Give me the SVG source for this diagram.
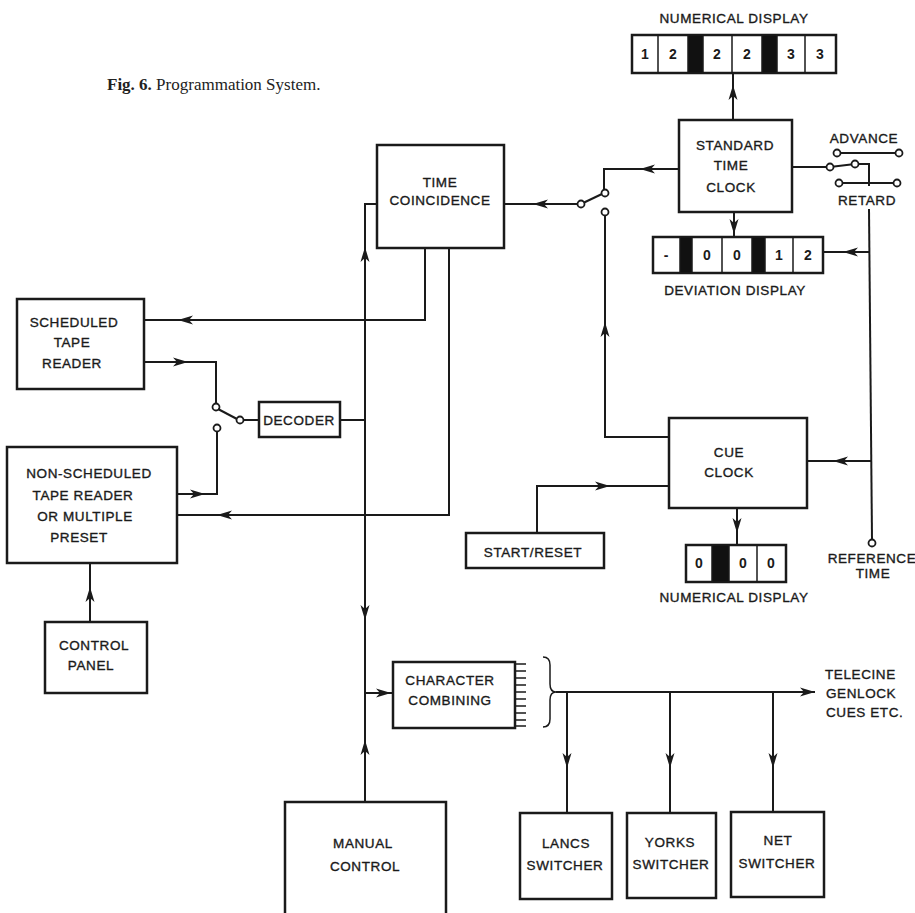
<svg xmlns="http://www.w3.org/2000/svg" width="915" height="913" viewBox="0 0 915 913">
<defs>
<style>
.box{fill:#fff;stroke:#1a1a1a;stroke-width:2.5}
.ln{fill:none;stroke:#1a1a1a;stroke-width:2}
.thin{fill:none;stroke:#1a1a1a;stroke-width:1.5}
.blk{fill:#111;stroke:#1a1a1a;stroke-width:1.5}
.c{fill:#fff;stroke:#1a1a1a;stroke-width:1.8}
.t{font-family:"Liberation Sans",Arial,sans-serif;font-size:13.5px;fill:#1a1a1a;stroke:#1a1a1a;stroke-width:0.35;text-anchor:middle;letter-spacing:0.6px}
.l{text-anchor:start}
.d{font-family:"Liberation Sans",Arial,sans-serif;font-size:14px;font-weight:bold;fill:#1a1a1a;text-anchor:middle}
.cap{font-family:"Liberation Serif","Times New Roman",serif;font-size:17px;fill:#222}
</style>
<path id="ah" d="M0,0 L-15,-4.5 L-11,0 L-15,4.5 Z" fill="#1a1a1a"/>
</defs>
<rect width="915" height="913" fill="#fff"/>

<text class="cap" x="107" y="90"><tspan font-weight="bold">Fig. 6.</tspan>  Programmation System.</text>

<g id="numerical-display-top">
<text class="t" x="734" y="23">NUMERICAL DISPLAY</text>
<rect class="box" x="632" y="35" width="204" height="38"/>
<rect class="blk" x="688" y="35" width="15" height="38"/>
<rect class="blk" x="762" y="35" width="15" height="38"/>
<path class="thin" d="M658,35V73M732,35V73M805,35V73"/>
<text class="d" x="645" y="59">1</text>
<text class="d" x="673" y="59">2</text>
<text class="d" x="717" y="59">2</text>
<text class="d" x="747" y="59">2</text>
<text class="d" x="791" y="59">3</text>
<text class="d" x="820" y="59">3</text>
</g>

<g id="standard-time-clock">
<rect class="box" x="679" y="120" width="113" height="92"/>
<text class="t" x="735" y="150">STANDARD</text>
<text class="t" x="731" y="170">TIME</text>
<text class="t" x="731" y="192">CLOCK</text>
</g>

<g id="advance-retard">
<text class="t" x="864" y="143">ADVANCE</text>
<text class="t" x="867" y="205">RETARD</text>
<line class="ln" x1="837" y1="153" x2="899" y2="153"/>
<line class="ln" x1="839" y1="183" x2="897" y2="183"/>
<circle class="c" cx="837" cy="153" r="3.5"/>
<circle class="c" cx="899" cy="153" r="3.5"/>
<circle class="c" cx="839" cy="183" r="3.5"/>
<circle class="c" cx="897" cy="183" r="3.5"/>
</g>

<g id="deviation-display">
<rect class="box" x="653" y="237" width="170" height="36"/>
<rect class="blk" x="680" y="237" width="12" height="36"/>
<rect class="blk" x="752" y="237" width="13" height="36"/>
<path class="thin" d="M722,237V273M793,237V273"/>
<text class="d" x="666" y="260">-</text>
<text class="d" x="707" y="260">0</text>
<text class="d" x="737" y="260">0</text>
<text class="d" x="779" y="260">1</text>
<text class="d" x="808" y="260">2</text>
<text class="t" x="735" y="295">DEVIATION DISPLAY</text>
</g>

<g id="time-coincidence">
<rect class="box" x="377" y="145" width="127" height="103"/>
<text class="t" x="440" y="187">TIME</text>
<text class="t" x="440" y="205">COINCIDENCE</text>
</g>

<g id="scheduled-tape-reader">
<rect class="box" x="17" y="299" width="127" height="90"/>
<text class="t" x="74" y="327">SCHEDULED</text>
<text class="t" x="72" y="347">TAPE</text>
<text class="t" x="72" y="368">READER</text>
</g>

<g id="decoder">
<rect class="box" x="259" y="402" width="81" height="35"/>
<text class="t" x="299" y="425">DECODER</text>
</g>

<g id="non-scheduled-tape-reader">
<rect class="box" x="7" y="447" width="170" height="116"/>
<text class="t" x="89" y="478">NON-SCHEDULED</text>
<text class="t" x="83" y="500">TAPE READER</text>
<text class="t" x="85" y="521">OR MULTIPLE</text>
<text class="t" x="79" y="542">PRESET</text>
</g>

<g id="control-panel">
<rect class="box" x="45" y="622" width="102" height="71"/>
<text class="t" x="94" y="650">CONTROL</text>
<text class="t" x="91" y="670">PANEL</text>
</g>

<g id="cue-clock">
<rect class="box" x="669" y="418" width="138" height="90"/>
<text class="t" x="729" y="457">CUE</text>
<text class="t" x="729" y="477">CLOCK</text>
</g>

<g id="start-reset">
<rect class="box" x="466" y="533" width="138" height="35"/>
<text class="t" x="533" y="557">START/RESET</text>
</g>

<g id="numerical-display-bottom">
<rect class="box" x="686" y="545" width="100" height="37"/>
<rect class="blk" x="712" y="545" width="17" height="37"/>
<path class="thin" d="M757,545V582"/>
<text class="d" x="699" y="568">0</text>
<text class="d" x="743" y="568">0</text>
<text class="d" x="771" y="568">0</text>
<text class="t" x="734" y="602">NUMERICAL DISPLAY</text>
</g>

<g id="reference-time">
<circle class="c" cx="872" cy="543" r="3.5"/>
<text class="t" x="872" y="563">REFERENCE</text>
<text class="t" x="873" y="578">TIME</text>
</g>

<g id="character-combining">
<rect class="box" x="393" y="662" width="122" height="66"/>
<text class="t" x="450" y="685">CHARACTER</text>
<text class="t" x="450" y="705">COMBINING</text>
<path class="thin" d="M515,664H526M515,671H526M515,678H526M515,685H526M515,692H526M515,699H526M515,706H526M515,713H526M515,720H526M515,726H526"/>
<path class="thin" d="M543,657 Q550,657 550,665 L550,684 Q550,692 556,692 Q550,692 550,700 L550,719 Q550,727 543,727"/>
</g>

<g id="telecine">
<text class="t l" x="825" y="679">TELECINE</text>
<text class="t l" x="826" y="698">GENLOCK</text>
<text class="t l" x="826" y="717">CUES ETC.</text>
</g>

<g id="manual-control">
<path class="box" d="M285,915 V802 H446 V915"/>
<text class="t" x="363" y="848">MANUAL</text>
<text class="t" x="365" y="871">CONTROL</text>
</g>

<g id="lancs-switcher">
<rect class="box" x="520" y="813" width="92" height="86"/>
<text class="t" x="566" y="848">LANCS</text>
<text class="t" x="565" y="870">SWITCHER</text>
</g>

<g id="yorks-switcher">
<rect class="box" x="627" y="813" width="89" height="85"/>
<text class="t" x="670" y="847">YORKS</text>
<text class="t" x="671" y="869">SWITCHER</text>
</g>

<g id="net-switcher">
<rect class="box" x="731" y="812" width="93" height="85"/>
<text class="t" x="778" y="845">NET</text>
<text class="t" x="777" y="868">SWITCHER</text>
</g>

<g id="connectors">
<path class="ln" d="M733,120 V73"/>
<path class="ln" d="M734,212 V237"/>
<path class="ln" d="M679,169 H604 V189.5"/>
<path class="ln" d="M604,193 L581,204"/>
<path class="ln" d="M577.5,204 H504"/>
<circle class="c" cx="605" cy="193" r="3.5"/>
<circle class="c" cx="581" cy="204" r="3.5"/>
<circle class="c" cx="605" cy="212" r="3.5"/>
<path class="ln" d="M605,215.5 V437 H669"/>
<path class="ln" d="M792,167 H826.5"/>
<path class="ln" d="M830,167 L855,164"/>
<path class="ln" d="M858.5,164 H869 V186"/>
<circle class="c" cx="830" cy="167" r="3.5"/>
<circle class="c" cx="855" cy="164" r="3.5"/>
<path class="ln" d="M869,209 L872,539.5"/>
<path class="ln" d="M869.4,252 H823"/>
<path class="ln" d="M871.3,461 H807"/>
<path class="ln" d="M737,508 V545"/>
<path class="ln" d="M537,533 V486 H669"/>
<path class="ln" d="M377,204 H365 V802"/>
<path class="ln" d="M425,248 V320 H144"/>
<path class="ln" d="M449,248 V515 H177"/>
<path class="ln" d="M340,420 H365"/>
<path class="ln" d="M144,362 H216 V403.5"/>
<circle class="c" cx="216" cy="407" r="3.5"/>
<path class="ln" d="M218,409 L237,419"/>
<circle class="c" cx="240" cy="420" r="3.5"/>
<path class="ln" d="M243.5,420 H259"/>
<circle class="c" cx="217" cy="428" r="3.5"/>
<path class="ln" d="M217,431.5 V494 H177"/>
<path class="ln" d="M90,622 V563"/>
<path class="ln" d="M365,693 H393"/>
<path class="ln" d="M556,692 H815"/>
<path class="ln" d="M567,692 V813"/>
<path class="ln" d="M670,692 V813"/>
<path class="ln" d="M773,692 V812"/>
<use href="#ah" transform="translate(733,85) rotate(-90)"/>
<use href="#ah" transform="translate(734,234) rotate(90)"/>
<use href="#ah" transform="translate(640,169) rotate(180)"/>
<use href="#ah" transform="translate(533,204) rotate(180)"/>
<use href="#ah" transform="translate(605,322) rotate(-90)"/>
<use href="#ah" transform="translate(843,252) rotate(180)"/>
<use href="#ah" transform="translate(833,461) rotate(180)"/>
<use href="#ah" transform="translate(737,533) rotate(90)"/>
<use href="#ah" transform="translate(610,486)"/>
<use href="#ah" transform="translate(178,320) rotate(180)"/>
<use href="#ah" transform="translate(217,515) rotate(180)"/>
<use href="#ah" transform="translate(188,362)"/>
<use href="#ah" transform="translate(205,494)"/>
<use href="#ah" transform="translate(90,587) rotate(-90)"/>
<use href="#ah" transform="translate(365,247) rotate(-90)"/>
<use href="#ah" transform="translate(365,620) rotate(90)"/>
<use href="#ah" transform="translate(365,740) rotate(-90)"/>
<use href="#ah" transform="translate(391,693)"/>
<use href="#ah" transform="translate(815,692)"/>
<use href="#ah" transform="translate(567,768) rotate(90)"/>
<use href="#ah" transform="translate(670,768) rotate(90)"/>
<use href="#ah" transform="translate(773,768) rotate(90)"/>
</g>
</svg>
